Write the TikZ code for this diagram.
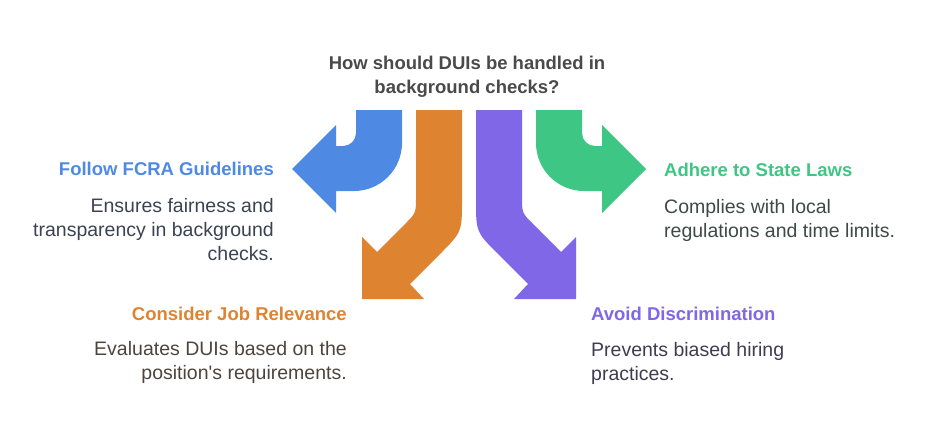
\documentclass[tikz,border=0pt]{standalone}
\usepackage{fontspec}
\setmainfont{Liberation Sans}
\usepackage{xcolor}
\definecolor{fcrablue}{HTML}{4E8AE4}
\definecolor{joborange}{HTML}{DE8431}
\definecolor{biaspurple}{HTML}{7F67E8}
\definecolor{stategreen}{HTML}{3EC684}
\definecolor{titlegray}{HTML}{4A4A4A}
\definecolor{fcratext}{HTML}{3B4253}
\definecolor{jobtext}{HTML}{4D443D}
\definecolor{biastext}{HTML}{3F3C52}
\definecolor{statetext}{HTML}{3E4A44}

\begin{document}
\begin{tikzpicture}[x=1pt,y=-1pt,
  head/.style={font=\bfseries\fontsize{18.5}{24}\selectfont, inner sep=0pt},
  body/.style={font=\fontsize{19.5}{24}\selectfont, inner sep=0pt}]
\useasboundingbox (0,0) rectangle (938,434);

% left arrow
\fill[fcrablue] (356,110) -- (402,110) -- (402,143) .. controls (402,169.5) and (380.5,191) .. (354,191)
  -- (336,191) -- (336,213) -- (292,169) -- (336,125) -- (336,146) -- (343,146)
  .. controls (350.2,146) and (356,140.2) .. (356,133) -- cycle;
% right arrow
\fill[stategreen] (582,110) -- (536,110) -- (536,143) .. controls (536,169.5) and (557.5,191) .. (584,191)
  -- (602,191) -- (602,213) -- (646,169) -- (602,125) -- (602,146) -- (595,146)
  .. controls (587.8,146) and (582,140.2) .. (582,133) -- cycle;
% down-left arrow
\fill[joborange] (416,110) -- (462,110) -- (462,200) .. controls (462,232) .. (439.4,254.6)
  -- (410,284) -- (424,299) -- (362,299) -- (362,237) -- (377,252) -- (404.7,224.3)
  .. controls (416,213) .. (416,197) -- cycle;
% down-right arrow
\fill[biaspurple] (522,110) -- (476,110) -- (476,200) .. controls (476,232) .. (498.6,254.6)
  -- (528,284) -- (514,299) -- (576,299) -- (576,237) -- (561,252) -- (533.3,224.3)
  .. controls (522,213) .. (522,197) -- cycle;

% question (base = last line)
\node[head, align=center, text=titlegray, anchor=base] (question) at (467,93.3)
  {How should DUIs be handled in\\background checks?};

% options
\node[head, anchor=base east, text=fcrablue] (fcra) at (274,175.7) {Follow FCRA Guidelines};
\node[body, anchor=base east, align=right, text=fcratext] (fcradesc) at (274,260.3)
  {Ensures fairness and\\transparency in background\\checks.};

\node[head, anchor=base west, text=stategreen] (state) at (664,176.7) {Adhere to State Laws};
\node[body, anchor=base west, align=left, text=statetext] (statedesc) at (664,237.3)
  {Complies with local\\regulations and time limits.};

\node[head, anchor=base east, text=joborange] (job) at (347,320) {Consider Job Relevance};
\node[body, anchor=base east, align=right, text=jobtext] (jobdesc) at (347,379)
  {Evaluates DUIs based on the\\position\textquotesingle s requirements.};

\node[head, anchor=base west, text=biaspurple] (bias) at (591,320) {Avoid Discrimination};
\node[body, anchor=base west, align=left, text=biastext] (biasdesc) at (591,380.7)
  {Prevents biased hiring\\practices.};
\end{tikzpicture}
\end{document}
